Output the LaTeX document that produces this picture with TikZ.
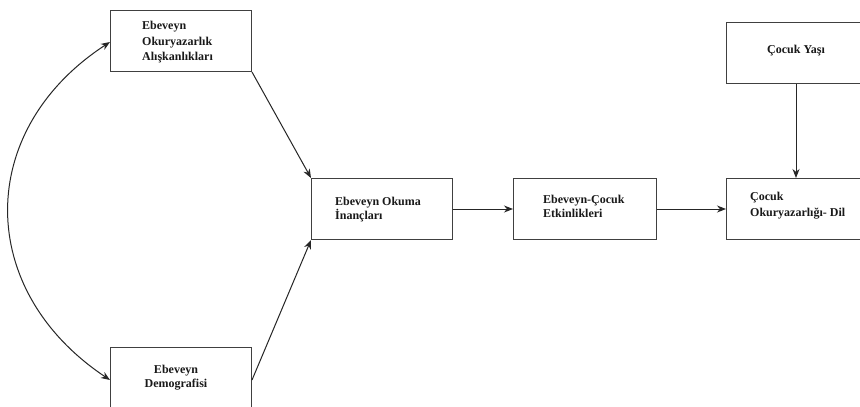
\documentclass[tikz,border=0pt]{standalone}
\usepackage{fontspec}
\setmainfont{Liberation Serif}
\usetikzlibrary{arrows.meta}
\begin{document}
\begin{tikzpicture}[x=1pt,y=-1pt,
  box/.style={draw=black!75,line width=1pt,rectangle,inner sep=0pt,minimum width=141pt,minimum height=61pt,anchor=north west},
  txt/.style={inner sep=0pt,font=\bfseries\fontsize{12}{14}\selectfont,text=black!90},
  arr/.style={draw=black!85,line width=1pt,-{Stealth[length=9pt,width=7pt]}},
  dbl/.style={draw=black!85,line width=1pt,{Stealth[length=9pt,width=7pt]}-{Stealth[length=9pt,width=7pt]}}]
\useasboundingbox (0,0) rectangle (860,407);
\fill[white] (0,0) rectangle (860,407);
% boxes
\node[box] (A) at (110,10) {};
\node[box] (B) at (110,347) {};
\node[box] (C) at (311,178) {};
\node[box,minimum width=143pt] (D) at (513,178) {};
\node[box] (E) at (726,178) {};
\node[box] (F) at (726,22) {};
% texts
\node[txt,anchor=base west] (a1) at (142,29) {Ebeveyn};
\node[txt,anchor=base west] (a2) at (142,45) {Okuryazarlık};
\node[txt,anchor=base west] (a3) at (142,60) {Alışkanlıkları};
\node[txt,anchor=base] (b1) at (176,373) {Ebeveyn};
\node[txt,anchor=base] (b2) at (176,387) {Demografisi};
\node[txt,anchor=base west] (c1) at (335,205) {Ebeveyn Okuma};
\node[txt,anchor=base west] (c2) at (335,219) {İnançları};
\node[txt,anchor=base west] (d1) at (543,203) {Ebeveyn-Çocuk};
\node[txt,anchor=base west] (d2) at (543,217) {Etkinlikleri};
\node[txt,anchor=base west] (e1) at (750,200) {Çocuk};
\node[txt,anchor=base west] (e2) at (750,216) {Okuryazarlığı- Dil};
\node[txt,anchor=base] (f1) at (796,53) {Çocuk Yaşı};
% connectors
\coordinate (At) at ([yshift=-32pt]A.north west);
\coordinate (Bt) at ([yshift=-33pt]B.north west);
\draw[arr] (A.south east) -- (C.north west);
\draw[arr] (B.north east |- Bt) -- (C.south west);
\draw[arr] (C.east) -- (D.west);
\draw[arr] (D.east) -- (E.west);
\draw[arr] (F.south -| 796,0) -- (E.north -| 796,0);
\draw[dbl] (At) .. controls (-25,130) and (-25,290) .. (Bt);
\end{tikzpicture}
\end{document}
